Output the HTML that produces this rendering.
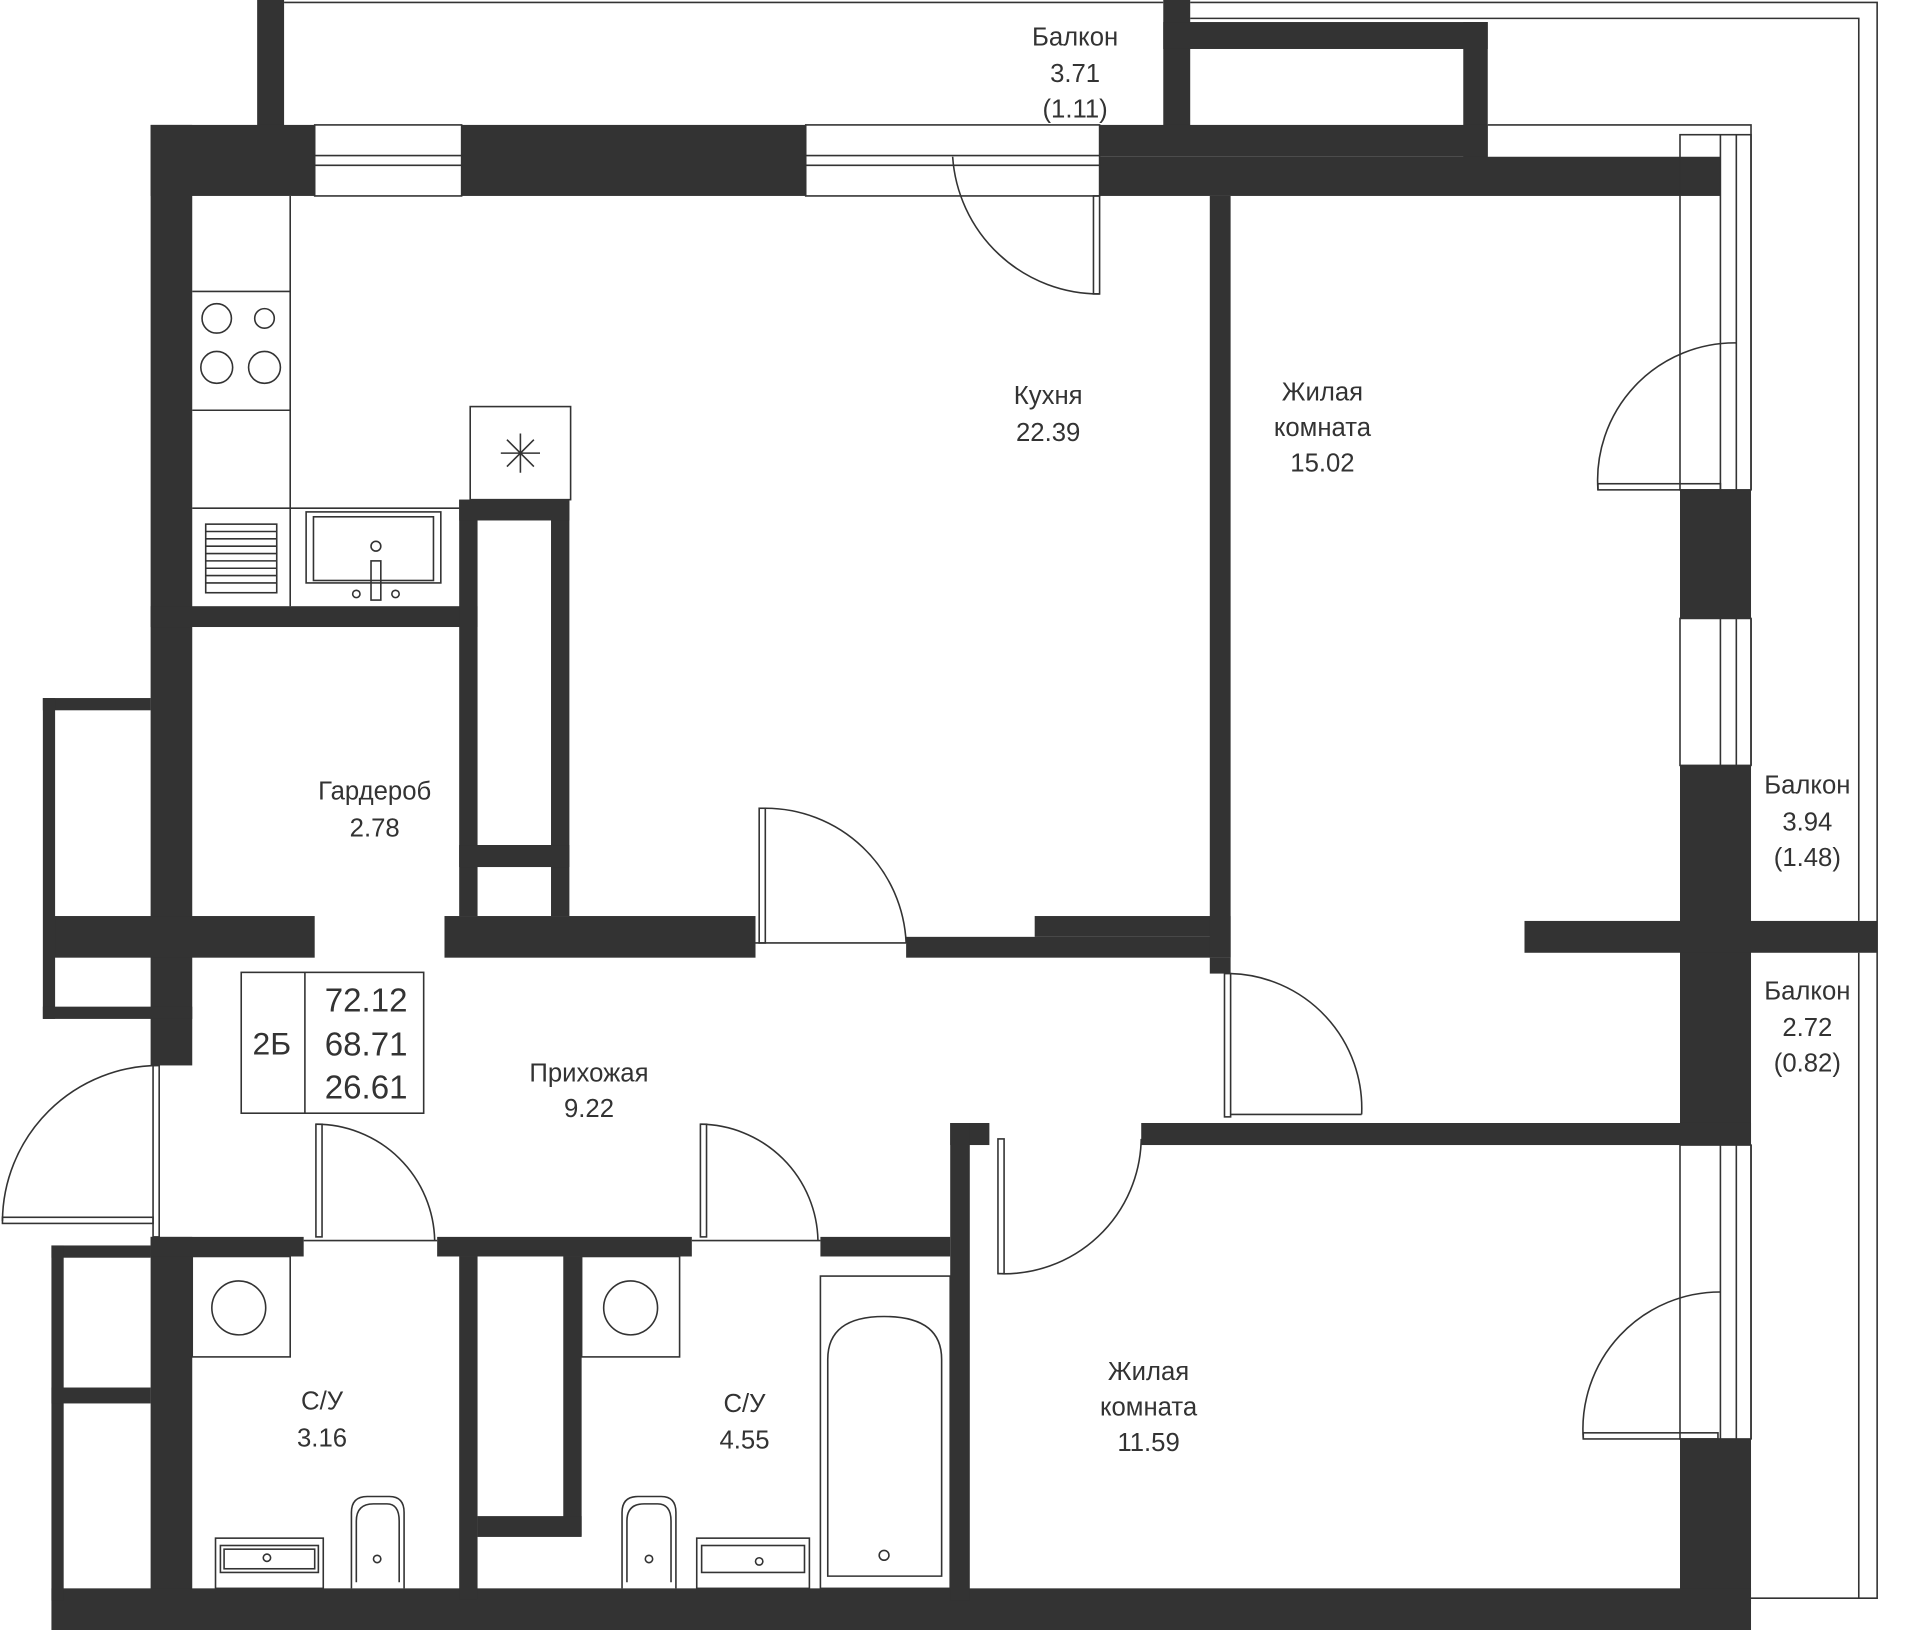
<!DOCTYPE html>
<html><head><meta charset="utf-8"><style>
html,body{margin:0;padding:0;background:#fff}
svg{display:block}
text{font-family:"Liberation Sans","Noto Sans CJK SC",sans-serif;fill:#333;font-size:21px;text-anchor:middle}
</style></head><body>
<svg width="1920" height="1630" viewBox="0 0 1568 1331" preserveAspectRatio="none" xmlns="http://www.w3.org/2000/svg">
<g fill="#333">
<rect x="210" y="0" width="22" height="105"/>
<rect x="950" y="0" width="22" height="105"/>
<rect x="950" y="18" width="265" height="22"/>
<rect x="1195" y="18" width="20" height="112"/>
<rect x="123" y="102" width="775" height="58"/>
<rect x="898" y="102" width="317" height="26"/>
<rect x="898" y="128" width="507" height="32"/>
<rect x="1372" y="400" width="58" height="105"/>
<rect x="1372" y="625" width="58" height="310"/>
<rect x="1245" y="752" width="288" height="26"/>
<rect x="1372" y="1175" width="58" height="135"/>
<rect x="123" y="102" width="34" height="768"/>
<rect x="123" y="1010" width="34" height="300"/>
<rect x="42" y="1297" width="1388" height="34"/>
<rect x="123" y="495" width="267" height="17"/>
<rect x="375" y="408" width="15" height="340"/>
<rect x="450" y="408" width="15" height="340"/>
<rect x="375" y="408" width="90" height="17"/>
<rect x="375" y="690" width="90" height="18"/>
<rect x="37" y="748" width="220" height="34"/>
<rect x="363" y="748" width="254" height="34"/>
<rect x="740" y="765" width="265" height="17"/>
<rect x="845" y="748" width="160" height="17"/>
<rect x="988" y="160" width="17" height="622"/>
<rect x="988" y="782" width="17" height="13"/>
<rect x="35" y="570" width="88" height="10"/>
<rect x="35" y="570" width="10" height="262"/>
<rect x="35" y="822" width="122" height="10"/>
<rect x="123" y="1010" width="125" height="16"/>
<rect x="357" y="1010" width="208" height="16"/>
<rect x="670" y="1010" width="106" height="16"/>
<rect x="776" y="917" width="32" height="18"/>
<rect x="776" y="917" width="16" height="390"/>
<rect x="932" y="917" width="498" height="18"/>
<rect x="375" y="1026" width="15" height="280"/>
<rect x="460" y="1026" width="15" height="228"/>
<rect x="390" y="1238" width="85" height="17"/>
<rect x="42" y="1017" width="81" height="10"/>
<rect x="42" y="1017" width="10" height="290"/>
<rect x="42" y="1133" width="81" height="13"/>
</g>
<g fill="#fff" stroke="#333" stroke-width="1.3">
<rect x="257" y="102" width="120" height="58"/>
<rect x="658" y="102" width="240" height="58"/>
</g>
<g fill="none" stroke="#333" stroke-width="1.3">
<line x1="232" y1="2" x2="950" y2="2"/>
<polyline points="972,2 1533,2 1533,1305 1430,1305"/>
<polyline points="972,15 1518,15 1518,752"/>
<line x1="1518" y1="778" x2="1518" y2="1305"/>
<polyline points="1215,102 1430,102 1430,400"/>
<line x1="1430" y1="505" x2="1430" y2="625"/>
<line x1="1430" y1="935" x2="1430" y2="1175"/>
<line x1="257" y1="127" x2="377" y2="127"/><line x1="257" y1="135" x2="377" y2="135"/>
<line x1="658" y1="127" x2="898" y2="127"/><line x1="658" y1="135" x2="898" y2="135"/>
<rect x="1372" y="110" width="58" height="290"/><line x1="1405" y1="110" x2="1405" y2="400"/><line x1="1418" y1="110" x2="1418" y2="400"/>
<rect x="1372" y="505" width="58" height="120"/><line x1="1405" y1="505" x2="1405" y2="625"/><line x1="1418" y1="505" x2="1418" y2="625"/>
<rect x="1372" y="935" width="58" height="240"/><line x1="1405" y1="935" x2="1405" y2="1175"/><line x1="1418" y1="935" x2="1418" y2="1175"/>
<path d="M898 240 A120 120 0 0 1 778 128"/><rect x="893" y="160" width="5" height="80"/>
<path d="M1305 400 A112 112 0 0 1 1418 280"/><rect x="1305" y="395" width="100" height="5"/>
<path d="M1293 1175 A112 112 0 0 1 1405 1055"/><rect x="1293" y="1170" width="110" height="5"/>
<path d="M625 660 A115 115 0 0 1 740 770"/><rect x="620" y="660" width="5" height="110"/><line x1="617" y1="770" x2="740" y2="770"/>
<path d="M1005 795 A110 110 0 0 1 1112 910"/><rect x="1000" y="795" width="5" height="117"/><line x1="1005" y1="910" x2="1112" y2="910"/>
<path d="M815 1040 A112 112 0 0 0 932 930"/><rect x="815" y="930" width="5" height="110"/>
<path d="M130 870 A128 128 0 0 0 2 997"/><rect x="125" y="870" width="5" height="140"/><rect x="2" y="994" width="123" height="5"/>
<path d="M258 918 A97 97 0 0 1 355 1013"/><rect x="258" y="918" width="5" height="92"/><line x1="248" y1="1013" x2="357" y2="1013"/>
<path d="M572 918 A97 97 0 0 1 668 1013"/><rect x="572" y="918" width="5" height="92"/><line x1="565" y1="1013" x2="670" y2="1013"/>
<line x1="157" y1="238" x2="237" y2="238"/>
<line x1="237" y1="160" x2="237" y2="495"/>
<line x1="157" y1="335" x2="237" y2="335"/>
<line x1="157" y1="415" x2="375" y2="415"/>
<circle cx="177" cy="260" r="12"/><circle cx="216" cy="260" r="8"/>
<circle cx="177" cy="300" r="13"/><circle cx="216" cy="300" r="13"/>
<rect x="168" y="428" width="58" height="56"/>
<path d="M168 434H226M168 440H226M168 446H226M168 452H226M168 458H226M168 464H226M168 470H226M168 476H226"/>
<rect x="250" y="418" width="110" height="58"/><rect x="256" y="422" width="98" height="52"/>
<circle cx="307" cy="446" r="4"/><rect x="303" y="458" width="8" height="32"/><circle cx="291" cy="485" r="3"/><circle cx="323" cy="485" r="3"/>
<rect x="384" y="332" width="82" height="76"/>
<path d="M425 354 L425 386 M409 370 L441 370 M414 359 L436 381 M436 359 L414 381"/>
<rect x="197" y="794" width="149" height="115"/><line x1="249" y1="794" x2="249" y2="909"/>
<rect x="157" y="1026" width="80" height="82"/><circle cx="195" cy="1068" r="22"/>
<rect x="176" y="1256" width="88" height="41"/><rect x="180" y="1262" width="80" height="22"/><rect x="183" y="1265" width="74" height="16"/>
<circle cx="218" cy="1272" r="3"/>
<path d="M287 1297 V1235 Q287 1222 300 1222 H318 Q330 1222 330 1235 V1297"/><path d="M291 1292 V1242 Q291 1228 305 1228 H316 Q326 1228 326 1242 V1292"/><circle cx="308" cy="1273" r="3"/>
<rect x="475" y="1026" width="80" height="82"/><circle cx="515" cy="1068" r="22"/>
<rect x="569" y="1256" width="92" height="41"/><rect x="573" y="1262" width="84" height="22"/>
<circle cx="620" cy="1275" r="3"/>
<path d="M508 1297 V1235 Q508 1222 521 1222 H540 Q552 1222 552 1235 V1297"/><path d="M512 1292 V1242 Q512 1228 526 1228 H537 Q548 1228 548 1242 V1292"/><circle cx="530" cy="1273" r="3"/>
<rect x="670" y="1042" width="106" height="255"/>
<path d="M676 1287 V1110 Q676 1075 722 1075 Q769 1075 769 1110 V1287 Z"/>
<circle cx="722" cy="1270" r="4"/>
</g>
<text x="878" y="37">Балкон</text><text x="878" y="67">3.71</text><text x="878" y="96">(1.11)</text>
<text x="856" y="330">Кухня</text><text x="856" y="360">22.39</text>
<text x="1080" y="327">Жилая</text><text x="1080" y="356">комната</text><text x="1080" y="385">15.02</text>
<text x="1476" y="648">Балкон</text><text x="1476" y="678">3.94</text><text x="1476" y="707">(1.48)</text>
<text x="1476" y="816">Балкон</text><text x="1476" y="846">2.72</text><text x="1476" y="875">(0.82)</text>
<text x="306" y="653">Гардероб</text><text x="306" y="683">2.78</text>
<text x="481" y="883">Прихожая</text><text x="481" y="912">9.22</text>
<text x="938" y="1127">Жилая</text><text x="938" y="1156">комната</text><text x="938" y="1185">11.59</text>
<text x="263" y="1151">С/У</text><text x="263" y="1181">3.16</text>
<text x="608" y="1153">С/У</text><text x="608" y="1183">4.55</text>
<text x="222" y="861" style="font-size:26px">2Б</text>
<text x="299" y="826" style="font-size:27px">72.12</text>
<text x="299" y="862" style="font-size:27px">68.71</text>
<text x="299" y="897" style="font-size:27px">26.61</text>
</svg>
</body></html>
